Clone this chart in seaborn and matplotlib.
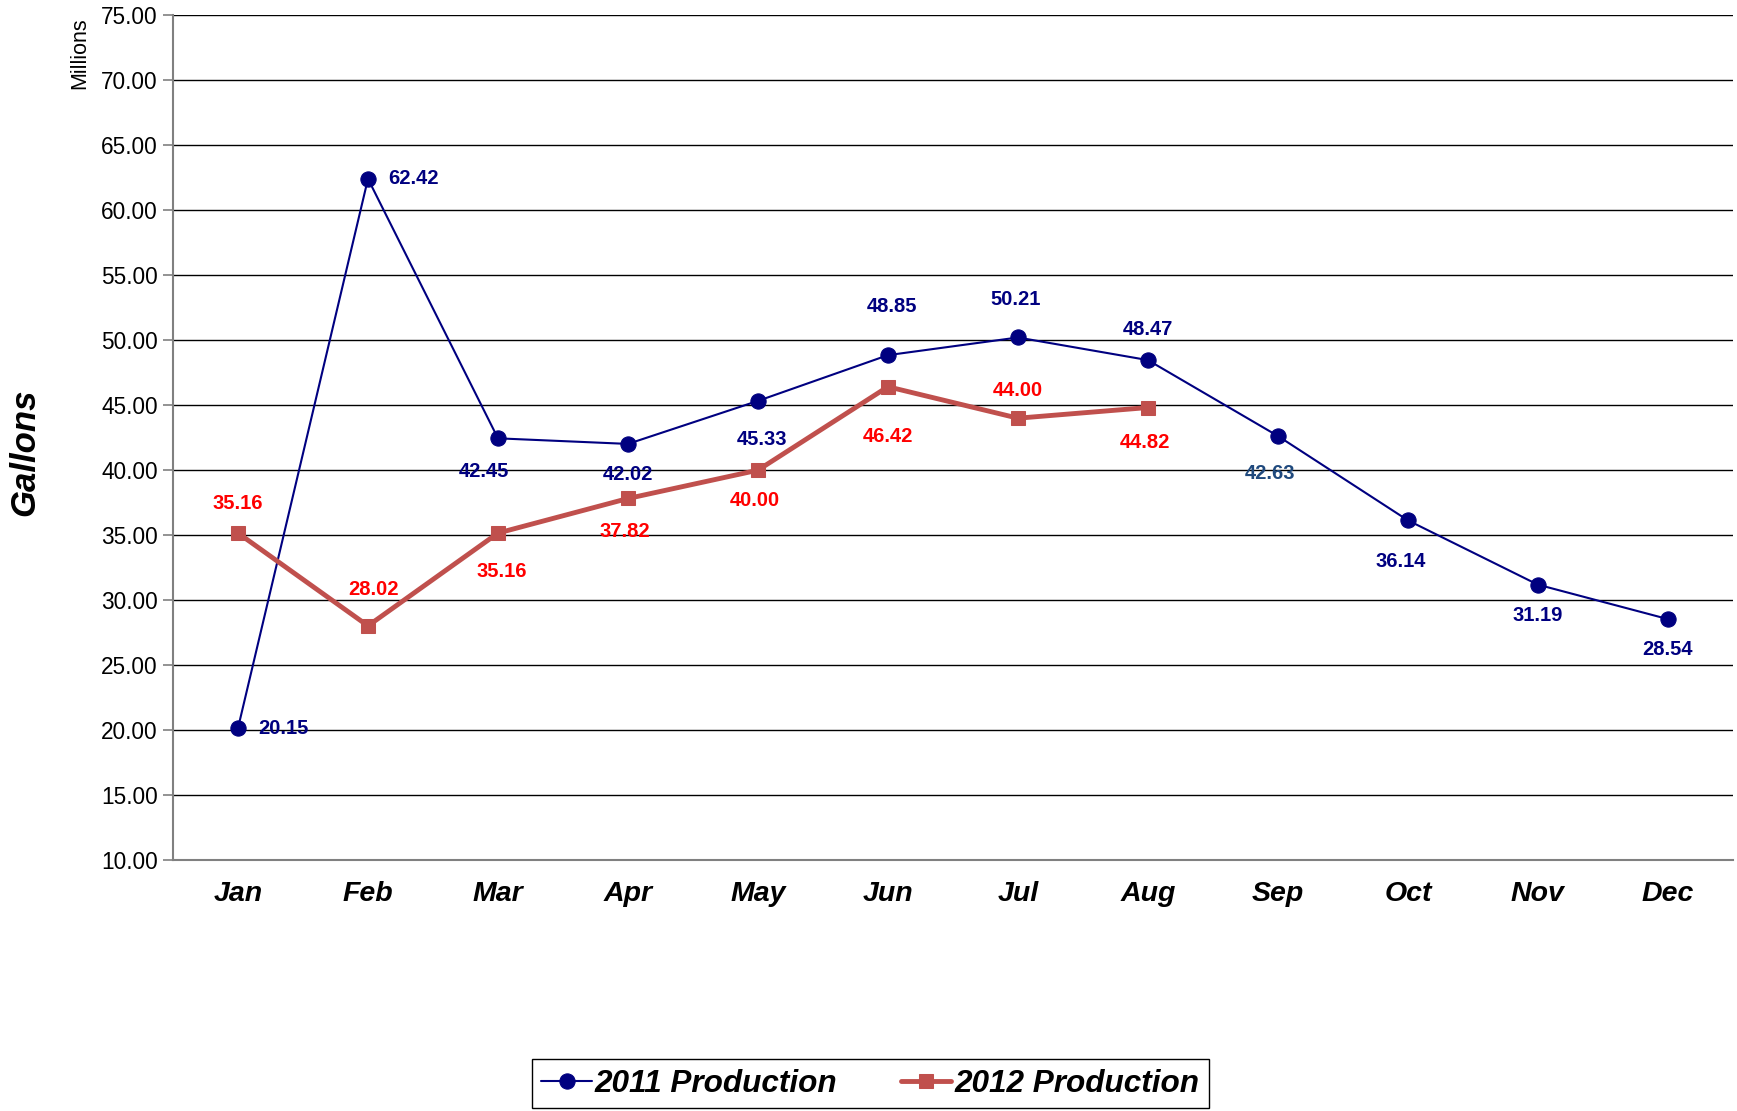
import matplotlib
matplotlib.use("Agg")
import matplotlib.pyplot as plt
import seaborn as sns
import numpy as np
import pandas as pd

months = ["Jan", "Feb", "Mar", "Apr", "May", "Jun", "Jul", "Aug", "Sep", "Oct", "Nov", "Dec"]
prod_2011 = [20.15, 62.42, 42.45, 42.02, 45.33, 48.85, 50.21, 48.47, 42.63, 36.14, 31.19, 28.54]
prod_2012 = [35.16, 28.02, 35.16, 37.82, 40.00, 46.42, 44.00, 44.82]
y_ticks = [10, 15, 20, 25, 30, 35, 40, 45, 50, 55, 60, 65, 70, 75]

# label offsets (points) for styling
off_2011 = [(33, 0), (33, 0), (-10, -24), (0, -22), (3, -28), (3, 35), (-2, 27), (0, 22),
            (-6, -27), (-5, -30), (0, -22), (0, -22)]
off_2012 = [(0, 21), (4, 26), (3, -28), (-2, -24), (-2, -22), (0, -36), (0, 20), (-2, -25)]
col_2011_lbl = ["#000080"] * 12
col_2011_lbl[8] = "#1F497D"

sns.set_theme(style="white")
plt.rcParams["font.family"] = ["Liberation Sans", "DejaVu Sans"]
plt.rcParams["text.color"] = "black"
plt.rcParams["xtick.labelcolor"] = "black"
plt.rcParams["ytick.labelcolor"] = "black"

fig = plt.figure(figsize=(17.37, 11.11), dpi=100)
ax = fig.add_axes([0.0996, 0.2259, 0.898, 0.7603])

df11 = pd.DataFrame({"x": np.arange(len(prod_2011)), "y": prod_2011})
df12 = pd.DataFrame({"x": np.arange(len(prod_2012)), "y": prod_2012})

sns.lineplot(data=df11, x="x", y="y", ax=ax, color="#000080", linewidth=1.5,
             marker="o", markersize=11, markeredgecolor="#000080", markerfacecolor="#000080",
             label="2011 Production", zorder=4, sort=False)
sns.lineplot(data=df12, x="x", y="y", ax=ax, color="#C0504D", linewidth=3.5,
             marker="s", markersize=10, markeredgecolor="#C0504D", markerfacecolor="#C0504D",
             label="2012 Production", zorder=5, sort=False)

for i, v in enumerate(prod_2011):
    ax.annotate(f"{v:.2f}", (i, v), xytext=off_2011[i], textcoords="offset points",
                ha="center", va="center", fontsize=14.5, fontweight="bold",
                color=col_2011_lbl[i], zorder=6)
for i, v in enumerate(prod_2012):
    ax.annotate(f"{v:.2f}", (i, v), xytext=off_2012[i], textcoords="offset points",
                ha="center", va="center", fontsize=14.5, fontweight="bold",
                color="#FF0000", zorder=6)

ax.set_xlim(-0.5, len(months) - 0.5)
ax.set_ylim(10, 75)
ax.set_yticks(y_ticks)
ax.set_yticklabels([f"{t:.2f}" for t in y_ticks], fontsize=16.3, color="black")
ax.yaxis.grid(True, color="black", linewidth=1.0)
ax.set_axisbelow(True)

ax.set_xticks(np.arange(len(months)))
ax.set_xticklabels(months, fontsize=20.5, fontweight="bold", fontstyle="italic", color="black")
ax.set_xticks(np.arange(len(months) + 1) - 0.5, minor=True)
ax.tick_params(axis="x", which="major", length=0, pad=15)
ax.tick_params(axis="x", which="minor", length=7, width=1.2, color="#808080", direction="out")
ax.tick_params(axis="y", length=7, width=1.2, color="#808080", direction="out", pad=4, left=True)

for s in ["top", "right"]:
    ax.spines[s].set_visible(False)
for s in ["left", "bottom"]:
    ax.spines[s].set_color("#808080")
    ax.spines[s].set_linewidth(1.5)

ax.set_xlabel("")
ax.set_ylabel("")
fig.text(0.014, 0.593, "Gallons", rotation=90, ha="center", va="center",
         fontsize=25, fontweight="bold", fontstyle="italic", color="black")
fig.text(0.046, 0.952, "Millions", rotation=90, ha="center", va="center", fontsize=15.5,
         color="black")

ax.get_legend().remove()
h, l = ax.get_legend_handles_labels()
leg = fig.legend(h, l, loc="center", bbox_to_anchor=(0.501, 0.0245), ncol=2,
                 prop={"size": 22.7, "weight": "bold", "style": "italic"},
                 frameon=True, fancybox=False, edgecolor="black", framealpha=1,
                 handlelength=1.6, handletextpad=0.1, columnspacing=2.0,
                 borderpad=0.3, borderaxespad=0)
leg.get_frame().set_linewidth(1.0)
leg._legend_box.sep = 5
for t in leg.get_texts():
    t.set_color("black")

fig.savefig("out.png", dpi=100)
